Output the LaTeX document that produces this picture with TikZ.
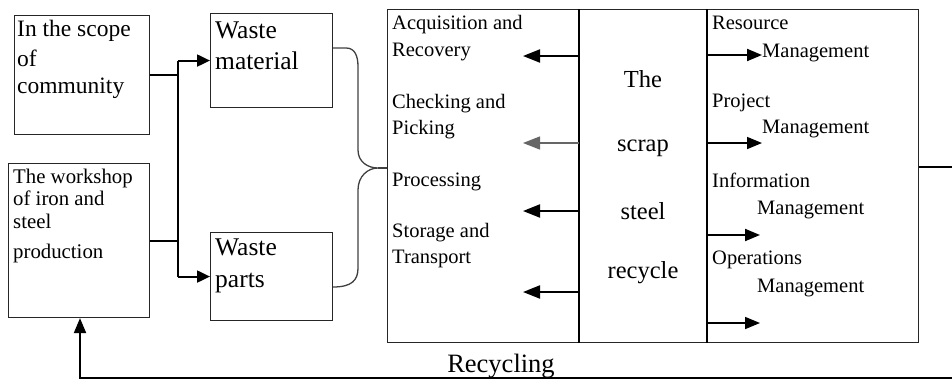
\documentclass[tikz,border=0pt]{standalone}
\usepackage{fontspec}
\setmainfont{Liberation Serif}
\usetikzlibrary{arrows.meta}

\begin{document}
\begin{tikzpicture}[x=1pt,y=-1pt,
  frame/.style={draw=black!85, line width=1.1pt, inner sep=0pt, anchor=north west},
  txt/.style={anchor=base west, inner sep=0pt},
  mid/.style={font=\fontsize{20.5}{24}\selectfont},
  ctr/.style={anchor=base, inner sep=0pt, font=\fontsize{24.5}{28}\selectfont},
  link/.style={draw=black, line width=2pt},
  arr/.style={link, -{Triangle[length=15pt,width=12pt]}},
  brace/.style={draw=black!75, line width=1.3pt}]
\useasboundingbox (0,0) rectangle (952,389);

% source boxes
\node[frame, minimum width=135, minimum height=119] (comm) at (14,15) {};
\node[frame, minimum width=141, minimum height=154] (work) at (8,163) {};
% waste boxes
\node[frame, minimum width=122, minimum height=94] (mat) at (210,13) {};
\node[frame, minimum width=122, minimum height=88] (parts) at (210,232) {};
% recycling system: three sections
\node[frame, minimum width=192, minimum height=333] (proc) at (387,9) {};
\node[frame, minimum width=128, minimum height=333] (core) at (579,9) {};
\node[frame, minimum width=211, minimum height=333] (mgmt) at (707,9) {};
\draw[line width=2pt] (core.north west) -- (core.south west);
\draw[line width=1.6pt] (mgmt.north west) -- (mgmt.south west);

% texts of the source boxes
\node[txt, font=\fontsize{23.5}{28}\selectfont] (c1) at (17,36) {In the scope};
\node[txt, font=\fontsize{23.5}{28}\selectfont] (c2) at (17,66) {of};
\node[txt, font=\fontsize{23.5}{28}\selectfont] (c3) at (17,93) {community};
\node[txt, font=\fontsize{20.8}{24}\selectfont] (w1) at (13,183) {The workshop};
\node[txt, font=\fontsize{20.8}{24}\selectfont] (w2) at (13,205) {of iron and};
\node[txt, font=\fontsize{20.8}{24}\selectfont] (w3) at (13,228) {steel};
\node[txt, font=\fontsize{20.8}{24}\selectfont] (w4) at (13,258) {production};
\node[txt, font=\fontsize{25.5}{28}\selectfont] (m1) at (215,38) {Waste};
\node[txt, font=\fontsize{25.5}{28}\selectfont] (m2) at (215,69) {material};
\node[txt, font=\fontsize{25.5}{28}\selectfont] (p1) at (215,255) {Waste};
\node[txt, font=\fontsize{25.5}{28}\selectfont] (p2) at (215,287) {parts};

% process steps
\node[txt, mid] (s1) at (392,29) {Acquisition and};
\node[txt, mid] (s2) at (392,56) {Recovery};
\node[txt, mid] (s3) at (392,108) {Checking and};
\node[txt, mid] (s4) at (392,134) {Picking};
\node[txt, mid] (s5) at (392,186) {Processing};
\node[txt, mid] (s6) at (392,237) {Storage and};
\node[txt, mid] (s7) at (392,263) {Transport};

% central title
\node[ctr] (k1) at (643,87) {The};
\node[ctr] (k2) at (643,151) {scrap};
\node[ctr] (k3) at (643,219) {steel};
\node[ctr] (k4) at (643,278) {recycle};

% management areas
\node[txt, mid] (r1) at (712,29) {Resource};
\node[txt, mid] (r2) at (762,57) {Management};
\node[txt, mid] (r3) at (712,107) {Project};
\node[txt, mid] (r4) at (762,133) {Management};
\node[txt, mid] (r5) at (712,187) {Information};
\node[txt, mid] (r6) at (757,214) {Management};
\node[txt, mid] (r7) at (712,264) {Operations};
\node[txt, mid] (r8) at (757,292) {Management};

% feedback label
\node[ctr, font=\fontsize{26.5}{30}\selectfont] (rec) at (501,372) {Recycling};

% sources to waste boxes
\coordinate (bus) at (178,0);
\draw[link] (comm.east) -- (comm.east -| bus);
\draw[link] (work.east) -- (work.east -| bus);
\draw[link] (bus |- mat.west) -- (bus |- parts.west);
\draw[arr, -{Triangle[length=13pt,width=12pt]}] (bus |- mat.west) -- (mat.west);
\draw[arr, -{Triangle[length=13pt,width=12pt]}] (bus |- parts.west) -- (parts.west);

% brace joining both waste boxes
\coordinate (tip) at (378,168);
\draw[brace] (mat.east |- 0,48) -- (346,48)
  .. controls (355,48) and (358,56) .. (358,67) -- (358,150)
  .. controls (358,162) and (368,168) .. (tip)
  .. controls (368,168) and (358,176) .. (358,190) -- (358,268)
  .. controls (358,280) and (352,287) .. (parts.east |- 0,287);
\draw[brace] (tip) -- (proc.west |- tip);

% arrows from the core to the process steps
\coordinate (a1) at (523,56);
\coordinate (a2) at (523,143);
\coordinate (a3) at (523,211);
\coordinate (a4) at (523,292);
\draw[arr, -{Triangle[length=17pt,width=13pt]}] (core.west |- a1) -- (a1);
\draw[arr, draw=black!60, line width=1.4pt, -{Triangle[length=17pt,width=13pt]}] (core.west |- a2) -- (a2);
\draw[arr, -{Triangle[length=17pt,width=13pt]}] (core.west |- a3) -- (a3);
\draw[arr, -{Triangle[length=17pt,width=13pt]}] (core.west |- a4) -- (a4);

% arrows from the core to the management areas
\coordinate (b1) at (762,55);
\coordinate (b2) at (762,143);
\coordinate (b3) at (760,235);
\coordinate (b4) at (760,323);
\draw[arr, line width=2pt] (mgmt.west |- b1) -- (b1);
\draw[arr, line width=1.6pt] (mgmt.west |- b2) -- (b2);
\draw[arr, line width=2pt] (mgmt.west |- b3) -- (b3);
\draw[arr, line width=1.6pt] (mgmt.west |- b4) -- (b4);

% feedback loop back to the workshop
\coordinate (out) at (962,167);
\draw[line width=1.2pt] (mgmt.east |- out) -- (out);
\coordinate (loop) at (962,378);
\coordinate (up) at (80,378);
\draw[arr] (loop) -- (up) -- (up |- work.south);
\end{tikzpicture}
\end{document}
